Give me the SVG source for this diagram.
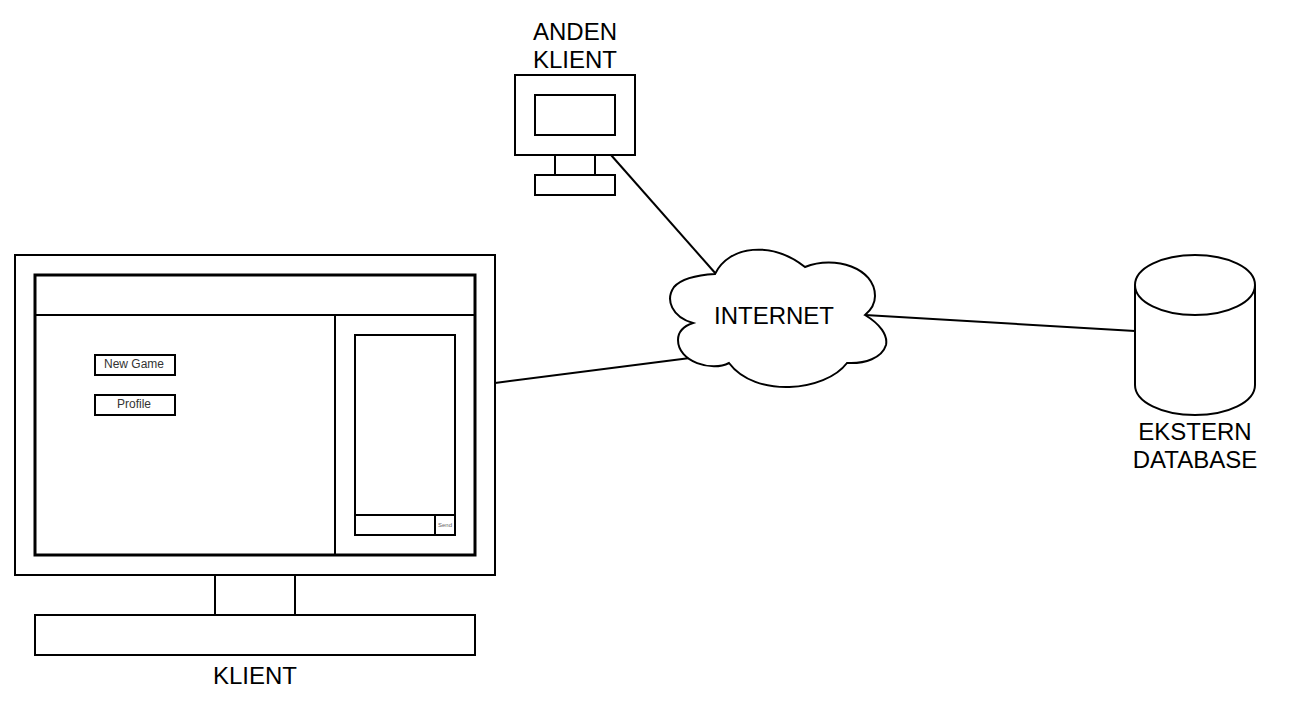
<svg xmlns="http://www.w3.org/2000/svg" width="1302" height="724" viewBox="0 0 1302 724">
<style>
.s{fill:#fff;stroke:#000;stroke-width:2}
.l{fill:none;stroke:#000;stroke-width:2}
.t{font-family:"Liberation Sans",Arial,sans-serif;font-size:24px;fill:#000;text-anchor:middle}
.b{font-family:"Liberation Sans",Arial,sans-serif;font-size:12px;fill:#333;text-anchor:middle}
.f{stroke-width:3}
</style>
<rect width="1302" height="724" fill="#fff"/>
<g id="connectors">
<path class="l" d="M611,155L716,274"/>
<path class="l" d="M495,383L690,358"/>
<path class="l" d="M865,315L1135,331"/>
</g>
<g id="klient">
<rect class="s" x="215" y="575" width="80" height="40"/>
<rect class="s" x="35" y="615" width="440" height="40"/>
<rect class="s" x="15" y="255" width="480" height="320"/>
<rect class="s f" x="35" y="275" width="440" height="280"/>
<path class="l" d="M35,315H475M335,315V555"/>
<rect class="s" x="355" y="335" width="100" height="200"/>
<path class="l" d="M355,515H455M435,515V535"/>
<text x="445" y="527" text-anchor="middle" font-family="Liberation Sans, Arial, sans-serif" font-size="6" fill="#666">Send</text>
<rect class="s" x="95" y="355" width="80" height="20"/>
<text class="b" x="134" y="368">New Game</text>
<rect class="s" x="95" y="395" width="80" height="20"/>
<text class="b" x="134" y="408">Profile</text>
<text class="t" x="255" y="684">KLIENT</text>
</g>
<g id="anden-klient">
<rect class="s" x="555" y="155" width="40" height="20"/>
<rect class="s" x="535" y="175" width="80" height="20"/>
<rect class="s" x="515" y="75" width="120" height="80"/>
<rect class="s" x="535" y="95" width="80" height="40"/>
<text class="t" x="575" y="40">ANDEN</text>
<text class="t" x="575" y="68">KLIENT</text>
</g>
<g id="internet">
<path class="s" d="M715,274C729,245 772,241 805,267C835,255 875,268 875,296C875,303 871,310 865,315C880,324 888,335 886,345C882,358 865,364 847,363C825,392 755,398 729,363C712,372 678,362 678,340C678,332 684,326 693,323C672,317 665,300 674,287C682,278 698,275 715,274Z"/>
<text class="t" x="774" y="324">INTERNET</text>
</g>
<g id="database">
<path class="s" d="M1135,285C1135,268 1162,255 1195,255C1228,255 1255,268 1255,285V385C1255,402 1228,415 1195,415C1162,415 1135,402 1135,385Z"/>
<path class="l" d="M1135,285C1135,302 1162,315 1195,315C1228,315 1255,302 1255,285"/>
<text class="t" x="1195" y="440">EKSTERN</text>
<text class="t" x="1195" y="468">DATABASE</text>
</g>
</svg>
